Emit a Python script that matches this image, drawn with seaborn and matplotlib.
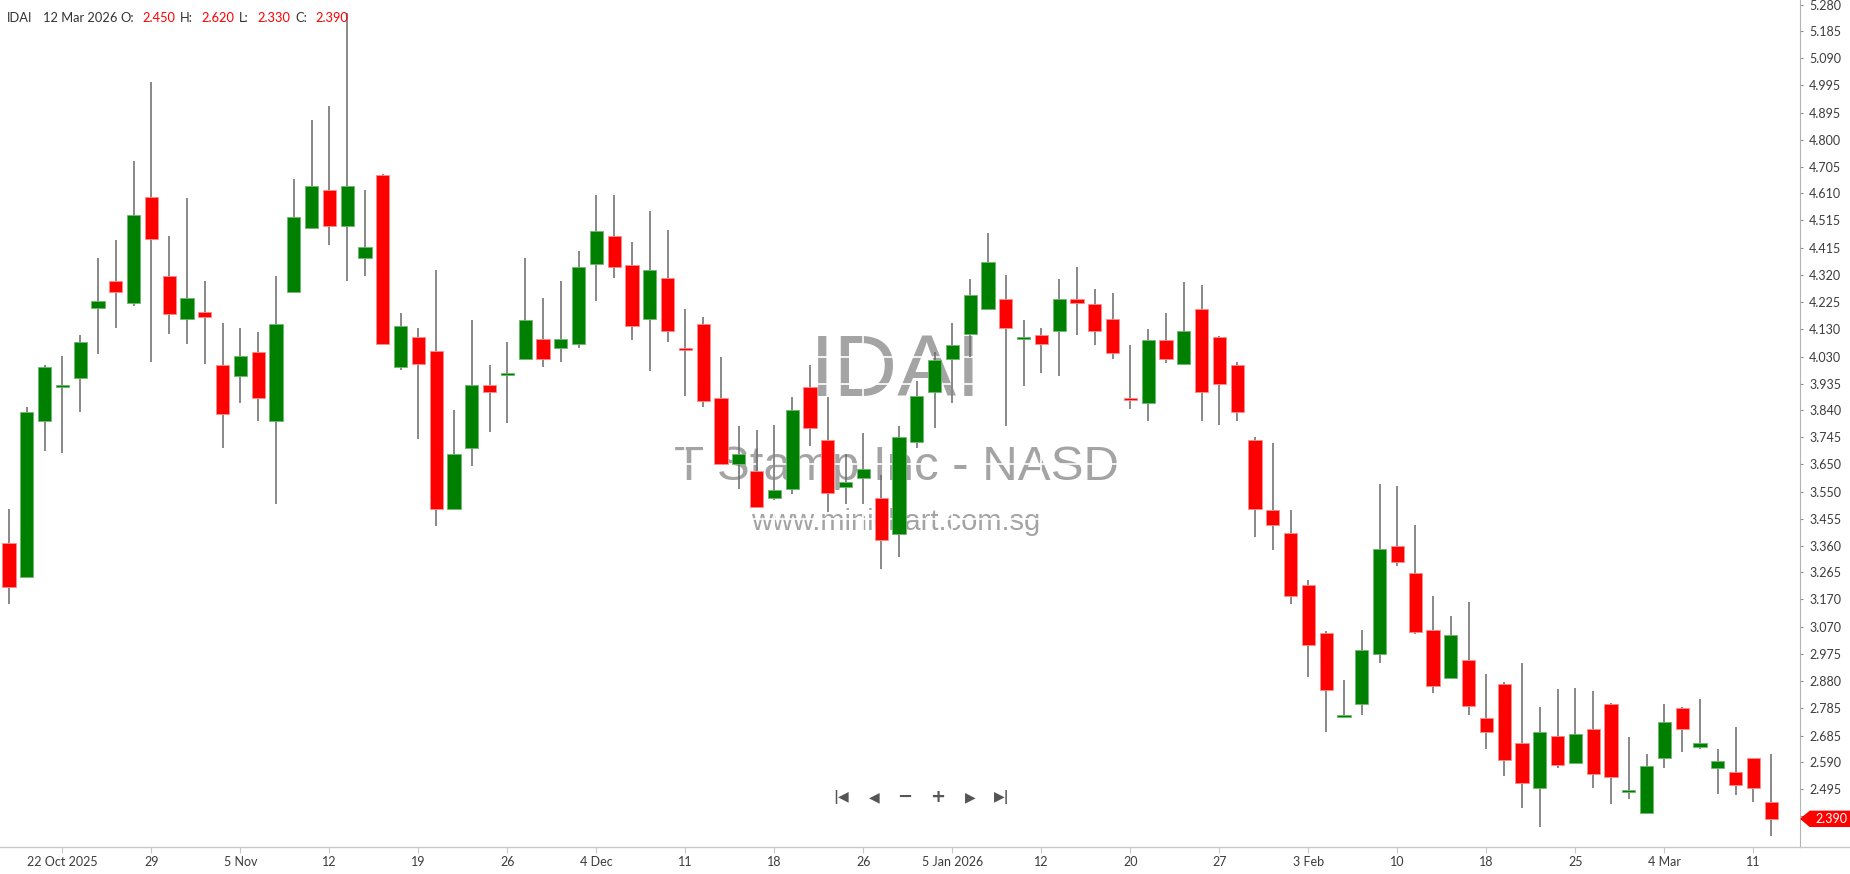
import numpy as np
import pandas as pd
import matplotlib
matplotlib.use("Agg")
import matplotlib.pyplot as plt
import matplotlib.transforms as mtransforms
from matplotlib.patches import Polygon
from matplotlib.lines import Line2D
import seaborn as sns

# trading days on the chart (US market holidays skipped)
holidays = ["2025-11-27", "2025-12-25", "2026-01-01", "2026-01-19", "2026-02-16"]
dates = pd.bdate_range("2025-10-17", "2026-03-12", freq="C", holidays=holidays)

opens = [3.368, 3.249, 3.803, 3.928, 3.954, 4.202, 4.299, 4.220, 4.596, 4.317,
         4.163, 4.188, 4.002, 3.963, 4.046, 3.803, 4.260, 4.488, 4.624, 4.494,
         4.381, 4.677, 3.995, 4.099, 4.051, 3.490, 3.707, 3.931, 3.969, 4.023,
         4.092, 4.063, 4.076, 4.358, 4.459, 4.357, 4.163, 4.309, 4.060, 4.148,
         3.883, 3.650, 3.625, 3.528, 3.560, 3.922, 3.736, 3.569, 3.601, 3.528,
         3.401, 3.729, 3.905, 4.021, 4.110, 4.199, 4.236, 4.097, 4.107, 4.123,
         4.235, 4.219, 4.165, 3.882, 3.867, 4.090, 4.004, 4.201, 4.100, 4.002,
         3.736, 3.488, 3.406, 3.221, 3.051, 2.755, 2.798, 2.975, 3.357, 3.262,
         3.062, 2.890, 2.955, 2.747, 2.870, 2.658, 2.500, 2.685, 2.589, 2.708,
         2.797, 2.490, 2.412, 2.607, 2.782, 2.646, 2.571, 2.556, 2.605, 2.450]
highs = [3.489, 3.851, 4.001, 4.033, 4.107, 4.380, 4.446, 4.725, 5.006, 4.459,
         4.593, 4.299, 4.149, 4.131, 4.117, 4.317, 4.662, 4.871, 4.920, 5.249,
         4.622, 4.679, 4.187, 4.133, 4.340, 3.843, 4.162, 4.002, 4.082, 4.380,
         4.238, 4.299, 4.406, 4.606, 4.604, 4.437, 4.548, 4.480, 4.201, 4.170,
         4.028, 3.784, 3.770, 3.788, 3.889, 4.001, 3.889, 3.685, 3.761, 3.610,
         3.784, 3.944, 4.048, 4.149, 4.307, 4.469, 4.322, 4.161, 4.131, 4.307,
         4.348, 4.272, 4.256, 4.072, 4.130, 4.187, 4.295, 4.285, 4.104, 4.010,
         3.744, 3.723, 3.488, 3.239, 3.055, 2.884, 3.062, 3.577, 3.571, 3.434,
         3.182, 3.110, 3.159, 2.903, 2.874, 2.942, 2.787, 2.850, 2.853, 2.845,
         2.800, 2.680, 2.619, 2.797, 2.786, 2.814, 2.637, 2.717, 2.607, 2.620]
lows = [3.152, 3.249, 3.697, 3.688, 3.834, 4.039, 4.131, 4.211, 4.012, 4.110,
        4.074, 4.003, 3.706, 3.865, 3.803, 3.508, 4.260, 4.488, 4.428, 4.299,
        4.318, 4.074, 3.982, 3.737, 3.431, 3.490, 3.644, 3.763, 3.794, 4.023,
        3.995, 4.012, 4.061, 4.229, 4.310, 4.090, 3.981, 4.082, 3.892, 3.851,
        3.650, 3.560, 3.498, 3.522, 3.542, 3.715, 3.480, 3.508, 3.507, 3.277,
        3.318, 3.705, 3.776, 3.865, 4.030, 4.199, 3.786, 3.928, 3.972, 3.963,
        4.109, 4.073, 4.021, 3.844, 3.803, 4.007, 4.004, 3.803, 3.787, 3.803,
        3.391, 3.343, 3.153, 2.894, 2.700, 2.748, 2.757, 2.944, 3.286, 3.045,
        2.837, 2.890, 2.757, 2.637, 2.541, 2.429, 2.362, 2.571, 2.589, 2.500,
        2.441, 2.460, 2.412, 2.572, 2.628, 2.637, 2.477, 2.474, 2.451, 2.330]
closes = [3.214, 3.833, 3.993, 3.928, 4.082, 4.228, 4.259, 4.535, 4.447, 4.181,
          4.238, 4.172, 3.826, 4.033, 3.884, 4.148, 4.525, 4.635, 4.494, 4.635,
          4.420, 4.074, 4.139, 4.003, 3.490, 3.686, 3.931, 3.906, 3.969, 4.162,
          4.023, 4.092, 4.349, 4.475, 4.349, 4.141, 4.339, 4.123, 4.055, 3.874,
          3.650, 3.686, 3.498, 3.557, 3.842, 3.778, 3.548, 3.585, 3.632, 3.380,
          3.744, 3.891, 4.019, 4.072, 4.249, 4.366, 4.132, 4.097, 4.074, 4.235,
          4.221, 4.123, 4.042, 3.877, 4.090, 4.021, 4.121, 3.905, 3.932, 3.835,
          3.490, 3.432, 3.182, 3.006, 2.846, 2.755, 2.989, 3.349, 3.302, 3.053,
          2.862, 3.044, 2.789, 2.700, 2.599, 2.518, 2.697, 2.580, 2.690, 2.549,
          2.539, 2.490, 2.577, 2.734, 2.709, 2.658, 2.596, 2.510, 2.500, 2.390]

tick_dates = ["2025-10-22", "2025-10-29", "2025-11-05", "2025-11-12", "2025-11-19",
              "2025-11-26", "2025-12-04", "2025-12-11", "2025-12-18", "2025-12-26",
              "2026-01-05", "2026-01-12", "2026-01-20", "2026-01-27", "2026-02-03",
              "2026-02-10", "2026-02-18", "2026-02-25", "2026-03-04", "2026-03-11"]
tick_labels = ["22 Oct 2025", "29", "5 Nov", "12", "19", "26", "4 Dec", "11", "18", "26",
               "5 Jan 2026", "12", "20", "27", "3 Feb", "10", "18", "25", "4 Mar", "11"]
price_labels = ["5.280", "5.185", "5.090", "4.995", "4.895", "4.800", "4.705", "4.610",
                "4.515", "4.415", "4.320", "4.225", "4.130", "4.030", "3.935", "3.840",
                "3.745", "3.650", "3.550", "3.455", "3.360", "3.265", "3.170", "3.070",
                "2.975", "2.880", "2.785", "2.685", "2.590", "2.495", "2.400"]

df = pd.DataFrame({"date": dates, "open": opens, "high": highs, "low": lows, "close": closes})
df["x"] = np.arange(len(df))
df["up"] = df["close"] >= df["open"]
df["body_lo"] = df[["open", "close"]].min(axis=1)
df["body_h"] = (df["close"] - df["open"]).abs()
# dojis still get a thin visible body
thin = df["body_h"] < 0.007
df.loc[thin, "body_lo"] = df.loc[thin, "body_lo"] - (0.007 - df.loc[thin, "body_h"]) / 2
df.loc[thin, "body_h"] = 0.007

sns.set_style("white")
plt.rcParams["font.family"] = ["Lato", "DejaVu Sans"]

W, H = 1850, 874
fig = plt.figure(figsize=(W / 100, H / 100), dpi=100)
ax = fig.add_axes([0, 27 / H, 1800 / W, 847 / H])

# watermark
wm = dict(transform=fig.transFigure, ha="center", va="baseline", color="#a4a4a4",
          family=["Liberation Sans", "DejaVu Sans"], zorder=0.1)
ax.text(896 / W, 1 - 396 / H, "IDAI", fontsize=63.5, **wm)
ax.text(896 / W, 1 - 480 / H, "T Stamp Inc - NASD", fontsize=35.5, **wm)
ax.text(896 / W, 1 - 530 / H, "www.minichart.com.sg", fontsize=21, **wm)

# candles
ax.vlines(df["x"], df["low"], df["high"], color="#6e6e6e", lw=1.15, zorder=2)
body_col = np.where(df["up"], "#008000", "#ff0000")
edge_col = np.where(df["up"], "#6fb86f", "#ff8c8c")
ax.bar(df["x"], df["body_h"], bottom=df["body_lo"], width=0.74, color=body_col,
       edgecolor=edge_col, linewidth=0.6, zorder=3)

ax.set_xlim(-0.506, 100.62)
ax.set_ylim(2.290, 5.2967)

xpos = dates.get_indexer(pd.to_datetime(tick_dates))
ax.set_xticks(xpos)
ax.set_xticklabels(tick_labels)
ax.yaxis.tick_right()
ax.set_yticks([float(s) for s in price_labels])
ax.set_yticklabels(price_labels)

ax.grid(True, color="white", lw=1.2)
ax.set_axisbelow(True)
ax.tick_params(axis="x", direction="out", length=4.3, width=0.8, color="#c8c8c8",
               pad=2.5, labelsize=9, labelcolor="#3c3c3c", bottom=True)
ax.tick_params(axis="y", direction="out", length=2.5, width=0.8, color="#8c8c8c",
               pad=4, labelsize=9, labelcolor="#3c3c3c", right=True, left=False)
for s in ["top", "left"]:
    ax.spines[s].set_visible(False)
ax.spines["right"].set_color("#b4b4b4")
ax.spines["right"].set_linewidth(0.8)
ax.spines["bottom"].set_color("#c8c8c8")
ax.spines["bottom"].set_linewidth(1.0)
fig.add_artist(Line2D([1800 / W, 1], [27 / H, 27 / H], color="#c8c8c8", lw=1.0))

# last price marker
last = df["close"].iloc[-1]
tr = mtransforms.blended_transform_factory(ax.transAxes, ax.transData)
hh = 7.5 / 281.7
ax.add_patch(Polygon([(1801 / 1800, last), (1810 / 1800, last + hh), (1850 / 1800, last + hh),
                      (1850 / 1800, last - hh), (1810 / 1800, last - hh)], closed=True,
                     transform=tr, clip_on=False, color="#ff0000", zorder=10))
ax.text(1831 / 1800, last, f"{last:.3f}", transform=tr, color="white", ha="center",
        va="center", fontsize=9, zorder=11, clip_on=False)

# header line
row = df.iloc[-1]
hy = 1 - 22 / H
head = [(6.7, "IDAI", "#333333"), (42.7, row["date"].strftime("%-d %b %Y"), "#333333"),
        (120, "O:", "#333333"), (142, f"{row['open']:.3f}", "#ff0000"),
        (180, "H:", "#333333"), (201.3, f"{row['high']:.3f}", "#ff0000"),
        (238.7, "L:", "#333333"), (257.7, f"{row['low']:.3f}", "#ff0000"),
        (295, "C:", "#333333"), (315.3, f"{row['close']:.3f}", "#ff0000")]
for px, s, c in head:
    fig.text(px / W, hy, s, color=c, fontsize=9.3, va="baseline", ha="left")

# navigation buttons
ny = 1 - 797 / H
nav = dict(color="#555555", ha="center", va="center", family="DejaVu Sans")
fig.text(841 / W, ny, "|\u25c0", fontsize=10, fontweight="bold", **nav)
fig.text(874 / W, ny, "\u25c0", fontsize=10, **nav)
fig.text(905 / W, ny, "\u2212", fontsize=13, fontweight="bold", **nav)
fig.text(938 / W, ny, "+", fontsize=13, fontweight="bold", **nav)
fig.text(970 / W, ny, "\u25b6", fontsize=10, **nav)
fig.text(1002 / W, ny, "\u25b6|", fontsize=10, fontweight="bold", **nav)

fig.savefig("out.png", dpi=100)
